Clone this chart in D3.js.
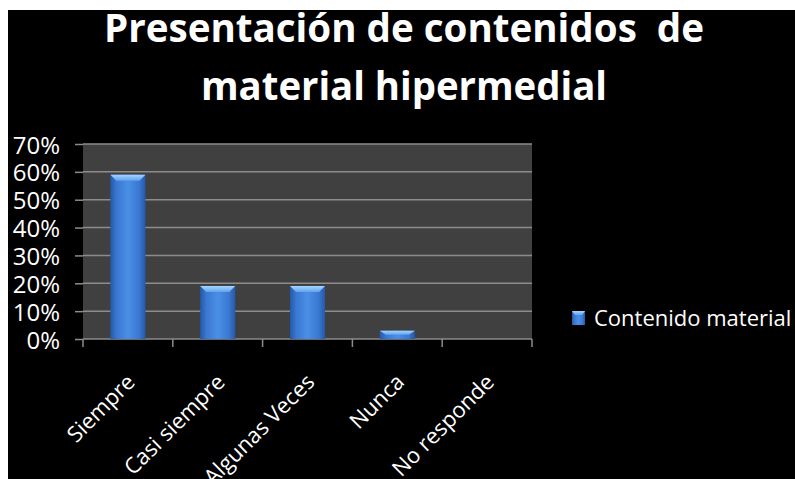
<!DOCTYPE html>
<html>
<head>
<meta charset="utf-8">
<script src="https://cdn.jsdelivr.net/npm/d3@7"></script>
<style>
  html, body { margin: 0; padding: 0; background: #fff; }
  svg { display: block; }
  text { font-family: "Open Sans", "DejaVu Sans", sans-serif; fill: #fff; }
</style>
</head>
<body>
<svg id="chart" width="795" height="479"></svg>
<script>
// chart data
const categories = ['Siempre', 'Casi siempre', 'Algunas Veces', 'Nunca', 'No responde'];
const values = [59, 19, 19, 3, 0];
const yTicks = [0, 10, 20, 30, 40, 50, 60, 70];
const titleLines = ['Presentación de contenidos  de', 'material hipermedial'];
const seriesName = 'Contenido material';

const svg = d3.select('#chart');
const W = 795, H = 479;

// black slide background (white margin on top/left like the source)
svg.append('rect')
  .attr('x', 8).attr('y', 10)
  .attr('width', W - 8).attr('height', H - 10)
  .attr('fill', '#000');

// plot area
const plot = { left: 83, right: 532, top: 144, bottom: 339 };

const x = d3.scaleBand()
  .domain(categories)
  .range([plot.left, plot.right])
  .paddingInner(0.61)
  .paddingOuter(0.305);

const y = d3.scaleLinear()
  .domain([0, 70])
  .range([plot.bottom, plot.top]);

const defs = svg.append('defs');
const grad = defs.append('linearGradient')
  .attr('id', 'barGrad')
  .attr('x1', '0%').attr('x2', '100%').attr('y1', '0%').attr('y2', '0%');
grad.append('stop').attr('offset', '0%').attr('stop-color', '#2459a8');
grad.append('stop').attr('offset', '18%').attr('stop-color', '#3a78d2');
grad.append('stop').attr('offset', '50%').attr('stop-color', '#4a8fe6');
grad.append('stop').attr('offset', '82%').attr('stop-color', '#3a78d2');
grad.append('stop').attr('offset', '100%').attr('stop-color', '#2459a8');

const capGrad = defs.append('linearGradient')
  .attr('id', 'capGrad')
  .attr('x1', '0%').attr('x2', '0%').attr('y1', '0%').attr('y2', '100%');
capGrad.append('stop').attr('offset', '0%').attr('stop-color', '#a8d4ff');
capGrad.append('stop').attr('offset', '100%').attr('stop-color', '#5fa2ee');

// plot background
svg.append('rect')
  .attr('x', plot.left).attr('y', plot.top)
  .attr('width', plot.right - plot.left)
  .attr('height', plot.bottom - plot.top)
  .attr('fill', '#404040');

// gridlines + y axis
const yAxis = svg.append('g')
  .attr('transform', `translate(${plot.left},0)`)
  .call(d3.axisLeft(y)
    .tickValues(yTicks)
    .tickFormat(d => d + '%')
    .tickSize(8)
    .tickPadding(15));
yAxis.select('.domain').remove();
yAxis.selectAll('.tick line').attr('stroke', '#8c8c8c').attr('stroke-width', 1.5);
yAxis.selectAll('.tick text')
  .attr('fill', '#fff')
  .style('font-size', '24px')
  .attr('dy', '0.38em');

svg.append('g')
  .selectAll('line')
  .data(yTicks)
  .join('line')
  .attr('x1', plot.left).attr('x2', plot.right)
  .attr('y1', d => y(d)).attr('y2', d => y(d))
  .attr('stroke', '#8c8c8c')
  .attr('stroke-width', 1.5);

// bars
const bars = svg.append('g')
  .selectAll('g')
  .data(categories.map((c, i) => ({ c, v: values[i] })).filter(d => d.v > 0))
  .join('g');

bars.append('rect')
  .attr('x', d => x(d.c))
  .attr('y', d => y(d.v))
  .attr('width', x.bandwidth())
  .attr('height', d => y(0) - y(d.v))
  .attr('fill', 'url(#barGrad)');

// bevelled top
bars.append('path')
  .attr('d', d => {
    const x0 = x(d.c), x1 = x0 + x.bandwidth(), t = y(d.v);
    const b = Math.min(6, (y(0) - t) / 2);
    return `M${x0},${t}L${x1},${t}L${x1 - 6},${t + b}L${x0 + 6},${t + b}Z`;
  })
  .attr('fill', 'url(#capGrad)');

// x axis with ticks between categories
const xTickPos = d3.range(categories.length + 1).map(i => plot.left + i * x.step());
svg.append('g')
  .selectAll('line')
  .data(xTickPos)
  .join('line')
  .attr('x1', d => d).attr('x2', d => d)
  .attr('y1', plot.bottom).attr('y2', plot.bottom + 8)
  .attr('stroke', '#8c8c8c')
  .attr('stroke-width', 1.5);

svg.append('g')
  .selectAll('text')
  .data(categories)
  .join('text')
  .attr('transform', d => `translate(${x(d) + x.bandwidth() / 2 + 3},378) rotate(-45)`)
  .attr('text-anchor', 'end')
  .attr('dy', '0.35em')
  .style('font-size', '22px')
  .text(d => d);

// title
svg.append('g')
  .selectAll('text')
  .data(titleLines)
  .join('text')
  .attr('x', 404)
  .attr('y', (d, i) => 42 + i * 58)
  .attr('text-anchor', 'middle')
  .attr('textLength', (d, i) => i === 0 ? 600 : 406)
  .attr('lengthAdjust', 'spacingAndGlyphs')
  .style('font-size', '40px')
  .style('font-weight', 'bold')
  .style('white-space', 'pre')
  .text(d => d);

// legend
const legend = svg.append('g').attr('transform', 'translate(572,311)');
legend.append('rect')
  .attr('width', 13).attr('height', 14)
  .attr('fill', 'url(#barGrad)');
legend.append('path')
  .attr('d', 'M0,0L13,0L10,4L3,4Z')
  .attr('fill', 'url(#capGrad)');
legend.append('text')
  .attr('x', 22).attr('y', 7)
  .attr('dy', '0.36em')
  .style('font-size', '22px')
  .text(seriesName);
</script>
</body>
</html>
